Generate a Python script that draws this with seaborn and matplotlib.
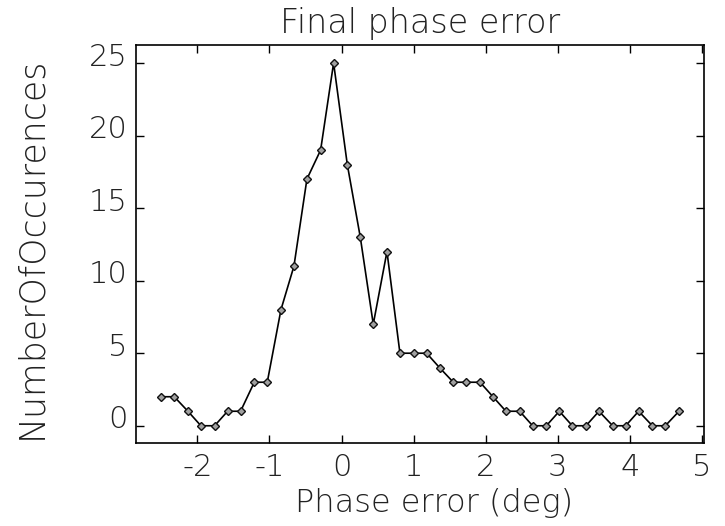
import matplotlib
matplotlib.use("Agg")
import matplotlib.pyplot as plt
import matplotlib.transforms as mtransforms
import matplotlib.font_manager as fm
import numpy as np
import pandas as pd
import seaborn as sns

# Phase error bin centres (deg) and number of occurrences per bin
phase_error = [-2.50, -2.32, -2.13, -1.95, -1.76, -1.58, -1.40, -1.21, -1.03, -0.84,
               -0.66, -0.48, -0.29, -0.11, 0.08, 0.26, 0.44, 0.63, 0.81, 1.00,
               1.18, 1.36, 1.55, 1.73, 1.92, 2.10, 2.28, 2.47, 2.65, 2.84,
               3.02, 3.20, 3.39, 3.57, 3.76, 3.94, 4.12, 4.31, 4.49, 4.68]
occurrences = [2, 2, 1, 0, 0, 1, 1, 3, 3, 8,
               11, 17, 19, 25, 18, 13, 7, 12, 5, 5,
               5, 4, 3, 3, 3, 2, 1, 1, 0, 0,
               1, 0, 0, 1, 0, 0, 1, 0, 0, 1]
x_ticks = [-2, -1, 0, 1, 2, 3, 4, 5]
y_ticks = [0, 5, 10, 15, 20, 25]

df = pd.DataFrame({"phase": phase_error, "count": occurrences})

sns.set_theme(style="ticks")
# thin face for all text; pick the lightest weight installed
light_faces = sorted(
    [f for f in fm.fontManager.ttflist if f.name in ("Lato", "DejaVu Sans", "Open Sans")],
    key=lambda f: (f.weight if isinstance(f.weight, int) else 400))
light_family = light_faces[0].name if light_faces else "DejaVu Sans"
light_weight = light_faces[0].weight if light_faces else "normal"
plt.rcParams["font.family"] = [light_family, "DejaVu Sans"]
plt.rcParams["font.weight"] = light_weight
plt.rcParams["axes.titleweight"] = light_weight
plt.rcParams["axes.labelweight"] = light_weight
plt.rcParams["text.color"] = "#222222"
plt.rcParams["axes.labelcolor"] = "#222222"

fig = plt.figure(figsize=(7.25, 5.26), dpi=100)
ax = fig.add_axes([0.1876, 0.1572, 0.9714 - 0.1876, 0.9144 - 0.1572])

sns.lineplot(data=df, x="phase", y="count", ax=ax, color="black", linewidth=1.2,
             marker="D", markersize=4.2, markerfacecolor="#a0a0a0",
             markeredgecolor="#111111", markeredgewidth=1.0)

ax.set_xlim(-2.85, 5.03)
ax.set_ylim(-1.21, 26.24)
ax.set_xticks(x_ticks)
ax.set_yticks(y_ticks)
ax.set_xticklabels([str(t) for t in x_ticks])
ax.set_yticklabels([str(t) for t in y_ticks])

for side in ["left", "right", "top", "bottom"]:
    ax.spines[side].set_visible(True)
    ax.spines[side].set_linewidth(1.2)
    ax.spines[side].set_color("black")

ax.tick_params(axis="both", which="major", direction="in", length=6, width=1.0,
               top=True, right=True, labelsize=22, color="black",
               labelcolor="#222222")
ax.tick_params(axis="x", pad=7)
ax.tick_params(axis="y", pad=6)

# lift y tick labels slightly above their ticks
offset = mtransforms.ScaledTranslation(0, 9 / 100, fig.dpi_scale_trans)
for lbl in ax.get_yticklabels():
    lbl.set_transform(lbl.get_transform() + offset)
    lbl.set_fontweight(light_weight)
for lbl in ax.get_xticklabels():
    lbl.set_fontweight(light_weight)

ax.set_title("Final phase error", fontsize=24, pad=9)
ax.set_xlabel("Phase error (deg)", fontsize=23)
ax.set_ylabel("NumberOfOccurences", fontsize=25)
ax.xaxis.set_label_coords(0.525, -0.112)
ax.yaxis.set_label_coords(-0.155, 0.49)

fig.savefig("out.png", dpi=100, facecolor="white")
